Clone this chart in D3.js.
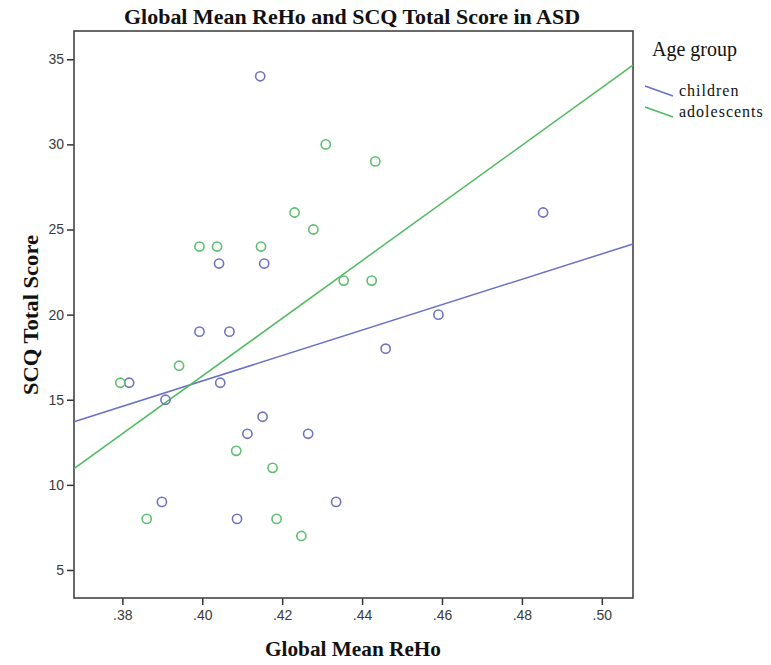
<!DOCTYPE html>
<html>
<head>
<meta charset="utf-8">
<script src="https://cdn.jsdelivr.net/npm/d3@7"></script>
<style>
  body { margin: 0; background: #fff; }
  .tick text { font-family: "Liberation Sans", Arial, sans-serif; font-size: 14px; fill: #3a3a3a; }
  .serif { font-family: "Liberation Serif", "Times New Roman", serif; fill: #111; }
</style>
</head>
<body>
<div id="chart"></div>
<script>
// values
var childrenX = [.4145, .4042, .4155, .3993, .4068, .3817, .4045, .3908, .4151, .4113, .4265, .3899, .4335, .4087, .4853, .4591, .4459];
var childrenY = [34, 23, 23, 19, 19, 16, 16, 15, 14, 13, 13, 9, 9, 8, 26, 20, 18];
var adolescentsX = [.3993, .4037, .4147, .4231, .4278, .4309, .4433, .4354, .4424, .3942, .3795, .4085, .4176, .3861, .4186, .4248];
var adolescentsY = [24, 24, 24, 26, 25, 30, 29, 22, 22, 17, 16, 12, 11, 8, 8, 7];
// fit lines: value at left and right edge of the x range
var childrenFit = [13.71, 24.15];
var adolescentsFit = [10.95, 34.66];
var xTicks = [.38, .40, .42, .44, .46, .48, .50];
var yTicks = [5, 10, 15, 20, 25, 30, 35];
var groups = ["children", "adolescents"];
var colors = ["#6f74bf", "#5fbe70"];
var lineColors = ["#6870c8", "#4dbb5e"];

var width = 771, height = 665;
var margin = {top: 31, right: 138, bottom: 67, left: 74};
var xDomain = [.3679, .5078];

var svg = d3.select("#chart").append("svg")
    .attr("width", width)
    .attr("height", height);

var x = d3.scaleLinear()
    .domain(xDomain)
    .range([margin.left, width - margin.right]);

var y = d3.scaleLinear()
    .domain([3.355, 36.66])
    .range([height - margin.bottom, margin.top]);

// title
svg.append("text")
    .attr("class", "serif")
    .attr("x", 352)
    .attr("y", 24)
    .attr("text-anchor", "middle")
    .attr("font-size", 20)
    .attr("font-weight", "bold")
    .attr("textLength", 456)
    .attr("lengthAdjust", "spacingAndGlyphs")
    .text("Global Mean ReHo and SCQ Total Score in ASD");

// axes
svg.append("g")
    .attr("transform", "translate(0," + (height - margin.bottom) + ")")
    .call(d3.axisBottom(x).tickValues(xTicks).tickSize(7).tickPadding(5)
        .tickFormat(function(d) { return d3.format(".2f")(d).replace(/^0/, ""); }))
    .call(function(g) { g.select(".domain").remove(); })
    .call(function(g) { g.selectAll(".tick line").attr("stroke", "#333").attr("stroke-width", 1.5); });

svg.append("g")
    .attr("transform", "translate(" + margin.left + ",0)")
    .call(d3.axisLeft(y).tickValues(yTicks).tickSize(7).tickPadding(3))
    .call(function(g) { g.select(".domain").remove(); })
    .call(function(g) { g.selectAll(".tick line").attr("stroke", "#333").attr("stroke-width", 1.5); });

// frame
svg.append("rect")
    .attr("x", margin.left)
    .attr("y", margin.top)
    .attr("width", width - margin.left - margin.right)
    .attr("height", height - margin.top - margin.bottom)
    .attr("fill", "none")
    .attr("stroke", "#444")
    .attr("stroke-width", 1.6);

// axis labels
svg.append("text")
    .attr("class", "serif")
    .attr("x", 353)
    .attr("y", 656)
    .attr("text-anchor", "middle")
    .attr("font-size", 22)
    .attr("font-weight", "bold")
    .attr("textLength", 176)
    .attr("lengthAdjust", "spacingAndGlyphs")
    .text("Global Mean ReHo");

svg.append("text")
    .attr("class", "serif")
    .attr("transform", "translate(38,315) rotate(-90)")
    .attr("text-anchor", "middle")
    .attr("font-size", 22)
    .attr("font-weight", "bold")
    .attr("textLength", 160)
    .attr("lengthAdjust", "spacingAndGlyphs")
    .text("SCQ Total Score");

// fit lines
var fits = [childrenFit, adolescentsFit];
svg.append("g").selectAll("line")
    .data(fits)
    .enter()
    .append("line")
    .attr("x1", x(xDomain[0]))
    .attr("x2", x(xDomain[1]))
    .attr("y1", function(d) { return y(d[0]); })
    .attr("y2", function(d) { return y(d[1]); })
    .attr("stroke", function(d, i) { return lineColors[i]; })
    .attr("stroke-width", 1.5);

// points
var series = [
    d3.zip(childrenX, childrenY),
    d3.zip(adolescentsX, adolescentsY)
];
series.forEach(function(pts, i) {
    svg.append("g").selectAll("circle")
        .data(pts)
        .enter()
        .append("circle")
        .attr("cx", function(d) { return x(d[0]); })
        .attr("cy", function(d) { return y(d[1]); })
        .attr("r", 4.6)
        .attr("fill", "none")
        .attr("stroke", colors[i])
        .attr("stroke-width", 1.6);
});

// legend
var legend = svg.append("g");
legend.append("text")
    .attr("class", "serif")
    .attr("x", 652)
    .attr("y", 56)
    .attr("font-size", 20)
    .text("Age group");

groups.forEach(function(name, i) {
    var ly = 96 + i * 21;
    legend.append("line")
        .attr("x1", 645).attr("y1", ly - 10)
        .attr("x2", 673).attr("y2", ly)
        .attr("stroke", lineColors[i])
        .attr("stroke-width", 1.4);
    legend.append("text")
        .attr("class", "serif")
        .attr("x", 679)
        .attr("y", ly)
        .attr("font-size", 16)
        .attr("letter-spacing", 1)
        .text(name);
});
</script>
</body>
</html>
